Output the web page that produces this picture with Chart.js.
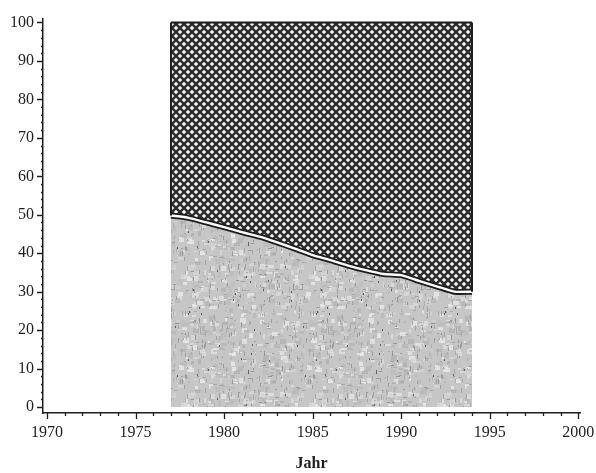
<!DOCTYPE html>
<html>
<head>
<meta charset="utf-8">
<script src="https://cdn.jsdelivr.net/npm/chart.js@4.4.1/dist/chart.umd.min.js"></script>
<style>
  html, body { margin: 0; padding: 0; background: #fff; }
  #wrap { width: 596px; height: 473px; }
</style>
</head>
<body>
<div id="wrap"><canvas id="chart" width="596" height="473"></canvas></div>
<script>
// Jahre und Anteil (%) der unteren Fläche
const years = [1977, 1978, 1979, 1980, 1981, 1982, 1983, 1984, 1985,
               1986, 1987, 1988, 1989, 1990, 1991, 1992, 1993, 1994];
const lowerShare = [49.8, 49.2, 48.0, 46.8, 45.5, 44.3, 42.8, 41.2, 39.5,
                    38.2, 36.8, 35.6, 34.6, 34.3, 32.8, 31.4, 30.0, 30.0];
const total = years.map(() => 100);

const xTickLabels = [1970, 1975, 1980, 1985, 1990, 1995, 2000];
const yTickLabels = [0, 10, 20, 30, 40, 50, 60, 70, 80, 90, 100];

const serif = '"Liberation Serif", "DejaVu Serif", serif';
const ink = '#1e1e1e';

// Kreuzschraffur für die obere Fläche
function crossHatch() {
    const c = document.createElement('canvas');
    c.width = 8; c.height = 8;
    const g = c.getContext('2d');
    g.fillStyle = '#fafafa';
    g.fillRect(0, 0, 8, 8);
    g.strokeStyle = '#2e2e2e';
    g.lineWidth = 2.6;
    g.beginPath();
    g.moveTo(-2, -2); g.lineTo(10, 10);
    g.moveTo(-2, 10); g.lineTo(10, -2);
    g.stroke();
    return g.createPattern(c, 'repeat');
}

// grau gesprenkelte Struktur für die untere Fläche (deterministisch)
function grayTexture() {
    const size = 128;
    const c = document.createElement('canvas');
    c.width = size; c.height = size;
    const g = c.getContext('2d');
    g.fillStyle = '#c6c6c6';
    g.fillRect(0, 0, size, size);
    let seed = 98765;
    const rnd = () => { seed = (seed * 1103515245 + 12345) % 2147483648; return seed / 2147483648; };
    for (let i = 0; i < 500; i++) {
        const x = Math.floor(rnd() * size), y = Math.floor(rnd() * size);
        const shade = rnd() < 0.5 ? 175 + Math.floor(rnd() * 20) : 208 + Math.floor(rnd() * 30);
        g.fillStyle = `rgba(${shade},${shade},${shade},0.8)`;
        g.fillRect(x, y, 2 + Math.floor(rnd() * 5), 2 + Math.floor(rnd() * 4));
    }
    for (let i = 0; i < 320; i++) {
        const x = Math.floor(rnd() * size), y = Math.floor(rnd() * size);
        const shade = 130 + Math.floor(rnd() * 40);
        g.fillStyle = `rgba(${shade},${shade},${shade},0.7)`;
        if (rnd() < 0.65) g.fillRect(x, y, 1, 2 + Math.floor(rnd() * 4));
        else g.fillRect(x, y, 2 + Math.floor(rnd() * 3), 1);
    }
    for (let i = 0; i < 30; i++) {
        const x = Math.floor(rnd() * size), y = Math.floor(rnd() * size);
        g.fillStyle = '#606060';
        g.fillRect(x, y, 1, 2);
    }
    return g.createPattern(c, 'repeat');
}

const lowerPts = years.map((x, i) => ({ x, y: lowerShare[i] }));
const upperPts = years.map((x, i) => ({ x, y: total[i] }));

// Ränder der Fläche und Achsenstriche
const decorations = {
    id: 'decorations',
    afterDatasetsDraw(chart) {
        const { ctx, scales: { x, y } } = chart;
        ctx.save();
        ctx.strokeStyle = ink;
        ctx.lineWidth = 2;
        const x0 = x.getPixelForValue(years[0]);
        const x1 = x.getPixelForValue(years[years.length - 1]);
        ctx.beginPath();
        ctx.moveTo(x0, y.getPixelForValue(total[0]));
        ctx.lineTo(x0, y.getPixelForValue(lowerShare[0]));
        ctx.moveTo(x1, y.getPixelForValue(total[total.length - 1]));
        ctx.lineTo(x1, y.getPixelForValue(lowerShare[lowerShare.length - 1]));
        ctx.stroke();
        ctx.restore();
    },
    afterDraw(chart) {
        const { ctx, scales: { x, y } } = chart;
        ctx.save();
        ctx.strokeStyle = ink;
        ctx.lineWidth = 1.3;
        ctx.beginPath();
        for (let v = 1970; v <= 2000; v++) {
            const px = Math.round(x.getPixelForValue(v)) + 0.5;
            const len = v % 5 === 0 ? 6 : 3;
            ctx.moveTo(px, x.top);
            ctx.lineTo(px, x.top + len);
        }
        for (let v = 0; v <= 100; v += 2) {
            const py = Math.round(y.getPixelForValue(v)) + 0.5;
            const len = v % 10 === 0 ? 6 : 2;
            ctx.moveTo(y.right, py);
            ctx.lineTo(y.right - len, py);
        }
        ctx.stroke();
        ctx.restore();
    }
};

new Chart(document.getElementById('chart'), {
    type: 'line',
    data: {
        datasets: [
            {   // weiße Trennlinie
                data: lowerPts, order: 0, fill: false,
                borderColor: '#ffffff', borderWidth: 2.4, pointRadius: 0, tension: 0.2
            },
            {   // schwarze Kontur der Trennlinie
                data: lowerPts, order: 1, fill: false,
                borderColor: ink, borderWidth: 6, pointRadius: 0, tension: 0.2
            },
            {   // untere Fläche
                data: lowerPts, order: 3, fill: 'origin',
                backgroundColor: grayTexture(), borderWidth: 0, pointRadius: 0, tension: 0.2
            },
            {   // obere Fläche bis 100
                data: upperPts, order: 2, fill: { target: 2 },
                backgroundColor: crossHatch(), borderColor: ink, borderWidth: 2, pointRadius: 0
            }
        ]
    },
    options: {
        responsive: false,
        animation: false,
        layout: { padding: { top: 13, right: 0, bottom: 0, left: 0 } },
        plugins: { legend: { display: false }, tooltip: { enabled: false } },
        scales: {
            x: {
                type: 'linear',
                min: 1969.77,
                max: 2000.1,
                afterBuildTicks: s => { s.ticks = xTickLabels.map(v => ({ value: v })); },
                afterFit: s => { s.height = 60; s.paddingRight = 16; s.paddingLeft = 0; },
                grid: { display: false, drawTicks: false },
                border: { display: true, color: ink, width: 1.5 },
                ticks: {
                    padding: 10, maxRotation: 0, autoSkip: false,
                    color: ink, font: { family: serif, size: 16 },
                    callback: v => String(v)
                },
                title: {
                    display: true, text: 'Jahr', color: ink,
                    font: { family: serif, size: 16, weight: 'bold' },
                    padding: { top: 0, bottom: 0 }
                }
            },
            y: {
                min: -1.54,
                max: 101,
                afterBuildTicks: s => { s.ticks = yTickLabels.map(v => ({ value: v })); },
                afterFit: s => { s.width = 43; },
                grid: { display: false, drawTicks: false },
                border: { display: true, color: ink, width: 1.5 },
                ticks: {
                    padding: 9, color: ink, font: { family: serif, size: 16 },
                    callback: v => String(v)
                }
            }
        }
    },
    plugins: [decorations]
});
</script>
</body>
</html>
